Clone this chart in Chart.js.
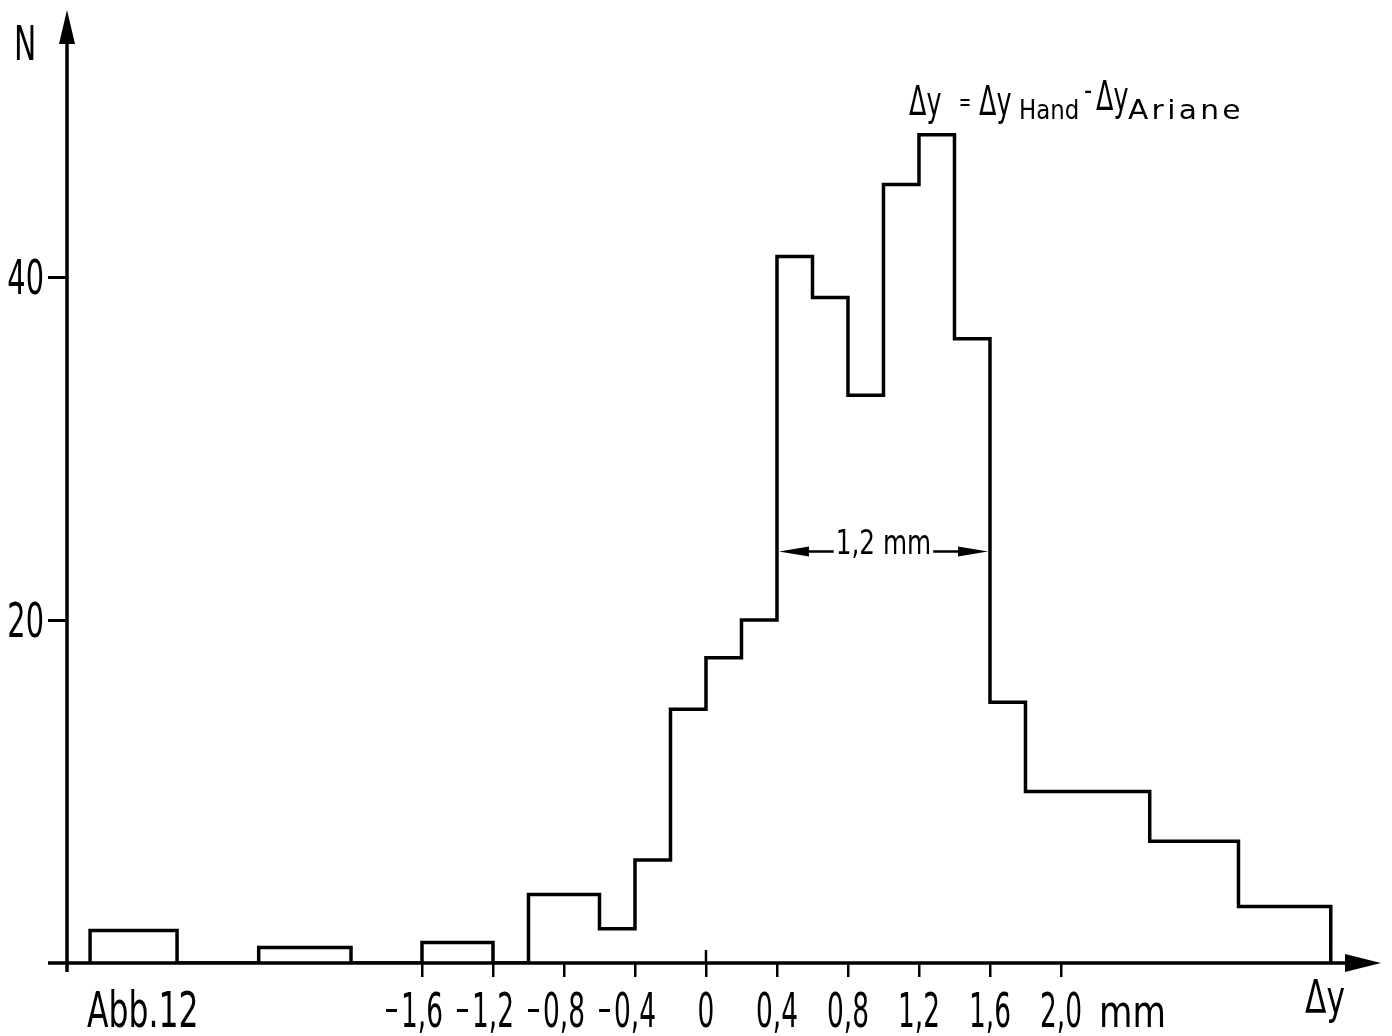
<!DOCTYPE html>
<html>
<head>
<meta charset="utf-8">
<script src="https://cdn.jsdelivr.net/npm/chart.js@4.4.1/dist/chart.umd.min.js"></script>
<style>
  html, body { margin: 0; padding: 0; background: #fff; }
  canvas { display: block; }
</style>
</head>
<body>
<canvas id="hist" width="1392" height="1036"></canvas>
<script>
// Histogram of Δy = Δy(Hand) - Δy(Ariane), counts per bin (mm)
const binLeft  = [-3.47, -2.52, -1.6, -1.0, -0.6, -0.4, -0.2, 0.0, 0.2, 0.4, 0.6, 0.8, 1.0, 1.2, 1.4, 1.6, 1.8, 2.5, 3.0]
const binRight = [-2.98, -2.0, -1.2, -0.6, -0.4, -0.2, 0.0, 0.2, 0.4, 0.6, 0.8, 1.0, 1.2, 1.4, 1.6, 1.8, 2.5, 3.0, 3.52]
const counts   = [1.9, 0.9, 1.2, 4, 2, 6, 14.8, 17.8, 20, 41.2, 38.8, 33.1, 45.4, 48.3, 36.4, 15.2, 10, 7.1, 3.3]

const xTicks = [-1.6, -1.2, -0.8, -0.4, 0, 0.4, 0.8, 1.2, 1.6, 2.0]
const yTicks = [20, 40]

// half-width marker: 1,2 mm between 0,4 and 1,6 at N = 24
const fwhmFrom = 0.4
const fwhmTo = 1.6
const fwhmLevel = 24

const FONT = '"DejaVu Sans", sans-serif'

// outline of the histogram as a stepped line
function outline() {
  const pts = []
  for (let i = 0; i < counts.length; i++) {
    if (i === 0 || binLeft[i] !== binRight[i - 1]) pts.push({ x: binLeft[i], y: 0 })
    pts.push({ x: binLeft[i], y: counts[i] })
    if (i === counts.length - 1 || binRight[i] !== binLeft[i + 1]) pts.push({ x: binRight[i], y: 0 })
  }
  return pts
}

// unsigned value with decimal comma; the sign is drawn separately
const fmt = v => v === 0 ? "0" : Math.abs(v).toFixed(1).replace(".", ",")

// narrow lettering: squeeze the glyphs horizontally
function text(ctx, str, x, y, size, align = "left", sx = 0.62, spacing = "0px") {
  ctx.save()
  ctx.font = `${size}px ${FONT}`
  ctx.textAlign = align
  ctx.textBaseline = "alphabetic"
  ctx.letterSpacing = spacing
  ctx.translate(x, y)
  ctx.scale(sx, 1)
  ctx.fillText(str, 0, 0)
  const w = ctx.measureText(str).width * sx
  ctx.restore()
  return w
}

function arrowHead(ctx, tipX, tipY, dx, dy, len, half) {
  // dx, dy: unit direction the arrow points to
  const bx = tipX - dx * len, by = tipY - dy * len
  ctx.beginPath()
  ctx.moveTo(tipX, tipY)
  ctx.lineTo(bx - dy * half, by + dx * half)
  ctx.lineTo(bx + dy * half, by - dx * half)
  ctx.closePath()
  ctx.fill()
}

const decorations = {
  id: "decorations",
  afterDraw(chart) {
    const { ctx, chartArea: a, scales: { x, y } } = chart
    ctx.save()
    ctx.strokeStyle = "#000"
    ctx.fillStyle = "#000"
    ctx.lineWidth = 3.5
    ctx.lineCap = "butt"

    // axes with arrows
    ctx.beginPath()
    ctx.moveTo(a.left, a.bottom + 9)
    ctx.lineTo(a.left, a.top + 30)
    ctx.moveTo(a.left - 19, a.bottom)
    ctx.lineTo(a.right - 30, a.bottom)
    ctx.stroke()
    arrowHead(ctx, a.left, a.top, 0, -1, 34, 8)
    arrowHead(ctx, a.right, a.bottom, 1, 0, 36, 9)

    // zero tick also reaches above the axis
    ctx.lineWidth = 2.5
    ctx.beginPath()
    ctx.moveTo(x.getPixelForValue(0), a.bottom - 13)
    ctx.lineTo(x.getPixelForValue(0), a.bottom)
    ctx.stroke()

    // tick labels: digits centred on the tick, minus sign hanging left
    const base = a.bottom + 64
    xTicks.forEach(v => {
      const px = x.getPixelForValue(v)
      const w = text(ctx, fmt(v), px, base, 48, "center", 0.55)
      if (v < 0) {
        ctx.fillRect(px - w / 2 - 15, base - 18, 11, 3)
      }
    })
    yTicks.forEach(v => text(ctx, String(v), a.left - 23, y.getPixelForValue(v) + 17, 48, "right", 0.6))
    text(ctx, "mm", x.getPixelForValue(2.0) + 38, base, 44, "left", 0.78)

    // axis names and figure label
    text(ctx, "N", 14, 60, 48, "left", 0.62)
    text(ctx, "Δy", 1305, 1013, 46, "left", 0.68)
    text(ctx, "Abb.12", 87, 1027, 50, "left", 0.63)

    // formula
    text(ctx, "Δy", 909, 115, 41, "left", 0.62)
    text(ctx, "=", 959, 110, 24, "left", 0.6)
    text(ctx, "Δy", 979, 115, 41, "left", 0.62)
    text(ctx, "Hand", 1019, 119, 26, "left", 0.88)
    text(ctx, "-", 1084, 100, 28, "left", 0.8)
    text(ctx, "Δy", 1096, 110, 41, "left", 0.62)
    text(ctx, "Ariane", 1128, 119, 27, "left", 1.1, "3px")

    // 1,2 mm half-width marker
    const x0 = x.getPixelForValue(fwhmFrom)
    const x1 = x.getPixelForValue(fwhmTo)
    const yl = y.getPixelForValue(fwhmLevel)
    const cx = (x0 + x1) / 2
    const w = text(ctx, "1,2 mm", cx, yl + 3, 33, "center", 0.75)
    ctx.lineWidth = 2.5
    ctx.beginPath()
    ctx.moveTo(x0 + 20, yl)
    ctx.lineTo(cx - w / 2 - 2, yl)
    ctx.moveTo(cx + w / 2 + 2, yl)
    ctx.lineTo(x1 - 20, yl)
    ctx.stroke()
    arrowHead(ctx, x0 + 2, yl, -1, 0, 30, 5)
    arrowHead(ctx, x1 - 2, yl, 1, 0, 30, 5)
    ctx.restore()
  }
}

new Chart(document.getElementById("hist"), {
  type: "scatter",
  data: {
    datasets: [{
      data: outline(),
      showLine: true,
      stepped: "before",
      borderColor: "#000",
      borderWidth: 3.5,
      borderJoinStyle: "miter",
      pointRadius: 0,
      pointHoverRadius: 0,
      fill: false,
    }]
  },
  options: {
    responsive: false,
    animation: false,
    events: [],
    layout: { padding: { top: 10, right: 11, left: 0, bottom: 0 } },
    plugins: {
      legend: { display: false },
      tooltip: { enabled: false },
    },
    scales: {
      x: {
        type: "linear",
        min: -3.6,
        max: 3.803,
        afterBuildTicks: s => { s.ticks = xTicks.map(v => ({ value: v })) },
        afterFit: s => { s.height = 73; s.paddingLeft = 0; s.paddingRight = 0 },
        grid: { drawOnChartArea: false, tickLength: 14, color: "#000", lineWidth: 2.5 },
        border: { display: false },
        ticks: { display: false },
      },
      y: {
        type: "linear",
        min: 0,
        max: 55.57,
        afterBuildTicks: s => { s.ticks = yTicks.map(v => ({ value: v })) },
        afterFit: s => { s.width = 67; s.paddingTop = 0; s.paddingBottom = 0 },
        grid: { drawOnChartArea: false, tickLength: 19, color: "#000", lineWidth: 3 },
        border: { display: false },
        ticks: { display: false },
      },
    },
  },
  plugins: [decorations],
})
</script>
</body>
</html>
